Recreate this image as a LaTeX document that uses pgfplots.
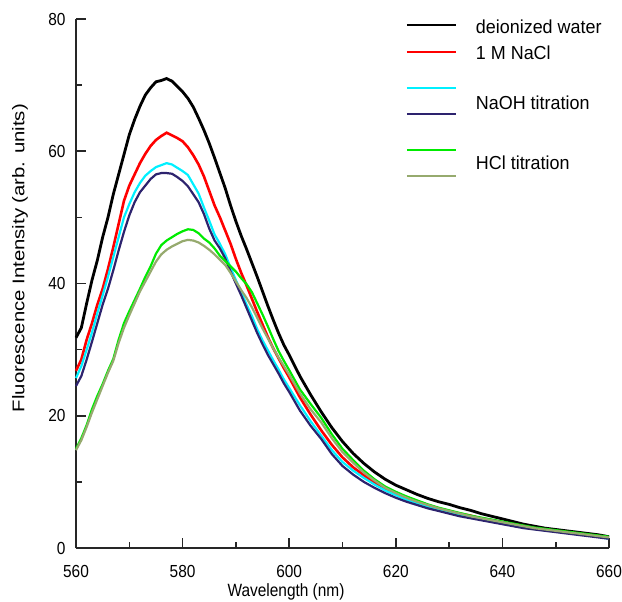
\documentclass[border=0pt]{standalone}
\usepackage{fontspec}
\setmainfont{Liberation Sans}
\usepackage{pgfplots}
\usepackage{pgfplotstable}
\pgfplotsset{compat=1.18}
\definecolor{navyc}{RGB}{45,35,110}
\definecolor{tanc}{RGB}{150,170,110}
\definecolor{cyanc}{RGB}{0,240,255}
\definecolor{greenc}{RGB}{0,235,0}
\definecolor{redc}{RGB}{255,0,0}

\pgfplotstableread{
lam black red cyan navy green tan
560 31.8 26.8 25.7 24.5 15.0 14.8
561 33.3 28.5 27.5 26.0 16.6 16.3
562 37.0 31.5 30.0 28.5 18.6 18.3
563 40.5 34.0 32.6 31.2 21.0 20.5
564 43.5 36.8 35.5 34.0 23.0 22.5
565 47.0 39.2 38.2 36.8 24.8 24.5
566 50.0 42.2 41.0 39.2 26.8 26.5
567 53.5 45.5 44.0 42.0 28.6 28.3
568 56.5 49.0 47.0 45.0 31.5 31.0
569 59.5 52.5 50.0 47.8 34.0 33.3
570 62.5 54.8 52.0 50.3 35.8 35.2
571 64.8 56.5 53.8 52.3 37.5 37.0
572 66.8 58.2 55.2 53.8 39.2 38.8
573 68.5 59.6 56.3 54.8 41.0 40.3
574 69.6 60.8 57.0 55.8 42.6 41.8
575 70.5 61.7 57.6 56.5 44.5 43.3
576 70.7 62.3 57.9 56.7 45.8 44.4
577 71.0 62.8 58.2 56.7 46.5 45.1
578 70.6 62.4 58.0 56.6 47.0 45.6
579 69.8 62.0 57.5 56.1 47.5 46.0
580 69.0 61.5 57.0 55.5 47.9 46.4
581 68.0 60.6 56.4 54.7 48.2 46.6
582 66.7 59.4 55.0 53.5 48.1 46.5
583 65.0 58.0 53.6 52.3 47.6 46.2
584 63.2 56.2 51.5 50.5 46.8 45.7
585 61.2 54.0 49.5 48.3 46.2 45.1
586 59.0 51.8 47.4 46.5 45.3 44.4
587 56.7 50.0 46.0 45.3 44.2 43.6
588 54.4 48.0 44.4 43.8 43.4 42.8
589 51.8 46.0 42.4 41.8 42.6 41.6
590 49.4 43.7 40.5 40.0 41.8 40.3
591 47.2 41.6 38.7 38.2 40.8 39.0
592 45.2 39.7 36.8 36.3 39.9 37.8
593 43.1 37.7 35.1 34.4 38.7 36.4
594 41.0 35.7 33.1 32.5 37.0 34.8
595 38.8 33.8 31.4 30.8 35.3 33.2
596 36.6 31.9 29.9 29.2 33.5 31.7
597 34.5 30.2 28.4 27.8 31.6 30.2
598 32.5 28.7 27.0 26.4 29.8 28.8
599 30.7 27.2 25.5 24.9 28.3 27.5
600 29.2 25.8 24.2 23.6 26.9 26.2
602 26.0 22.8 21.6 20.8 24.0 23.4
604 23.2 20.2 19.2 18.5 21.8 21.0
606 20.6 17.8 17.0 16.5 19.7 19.0
608 18.2 15.6 14.8 14.2 17.2 16.6
610 16.1 13.7 13.0 12.4 15.0 14.5
612 14.3 12.2 11.7 11.1 13.3 12.9
614 12.8 11.0 10.6 10.0 11.7 11.4
616 11.5 9.9 9.6 9.1 10.4 10.2
618 10.4 9.0 8.7 8.3 9.3 9.1
620 9.5 8.3 8.0 7.6 8.5 8.3
622 8.8 7.6 7.3 7.0 7.8 7.6
624 8.1 7.0 6.7 6.5 7.2 7.0
626 7.5 6.5 6.2 6.0 6.6 6.5
628 7.0 6.0 5.8 5.6 6.1 6.0
630 6.6 5.6 5.4 5.2 5.7 5.6
632 6.1 5.2 5.0 4.8 5.3 5.2
634 5.7 4.9 4.7 4.5 4.9 4.8
636 5.2 4.5 4.4 4.2 4.6 4.5
638 4.8 4.2 4.1 3.9 4.3 4.2
640 4.4 3.9 3.8 3.6 4.0 3.9
642 4.0 3.6 3.5 3.3 3.7 3.6
644 3.6 3.3 3.2 3.0 3.4 3.3
646 3.3 3.0 2.9 2.8 3.1 3.0
648 3.0 2.8 2.7 2.6 2.9 2.8
650 2.8 2.6 2.5 2.4 2.7 2.6
652 2.6 2.4 2.3 2.2 2.5 2.4
654 2.4 2.2 2.1 2.0 2.3 2.2
656 2.2 2.0 1.9 1.8 2.1 2.0
658 2.0 1.8 1.7 1.6 1.9 1.8
660 1.7 1.5 1.4 1.4 1.7 1.6
}\spectra

\begin{document}
\begin{tikzpicture}
\path[use as bounding box] (-76bp,-54bp) rectangle (546bp,548bp);
\begin{axis}[
  at={(0,0)}, anchor=south west,
  scale only axis, width=533bp, height=529bp,
  xmin=560, xmax=660, ymin=0, ymax=80,
  clip=false,
  axis x line*=bottom, axis y line*=left,
  axis line style={line width=1.5bp, black!85, -},
  xtick={560,580,...,660}, minor xtick={570,590,...,650},
  ytick={0,20,...,80}, minor ytick={10,30,50,70},
  tick align=inside,
  major tick length=10bp, minor tick length=6bp,
  tick style={line width=1.6bp, draw=black!85},
  /pgf/number format/assume math mode=true,
  ticklabel style={font=\fontsize{15.5}{15.5}\selectfont, yscale=1.13},
  xticklabel style={yshift=-11.5bp},
  yticklabel style={xshift=-7bp},
  xlabel={Wavelength (nm)},
  ylabel={Fluorescence Intensity (arb. units)},
  every axis x label/.style={at={(axis description cs:0.394,-0.0832)}, anchor=center, font=\fontsize{15.5}{15.5}\selectfont, yscale=1.15},
  every axis y label/.style={at={(axis description cs:-0.105,0.548)}, rotate=90, xscale=1.2, anchor=center, font=\fontsize{17}{17}\selectfont},
]
\addplot[black, line width=2.8bp] table[x=lam, y=black] {\spectra};
\addplot[redc, line width=2.6bp] table[x=lam, y=red] {\spectra};
\addplot[cyanc, line width=2.2bp] table[x=lam, y=cyan] {\spectra};
\addplot[navyc, line width=2.2bp] table[x=lam, y=navy] {\spectra};
\addplot[greenc, line width=2.2bp] table[x=lam, y=green] {\spectra};
\addplot[tanc, line width=2.2bp] table[x=lam, y=tan] {\spectra};

\draw[black, line width=2.8bp] (axis cs:622.1,79.1) -- (axis cs:631.3,79.1);
\draw[redc, line width=2.6bp] (axis cs:622.1,75.0) -- (axis cs:631.3,75.0);
\draw[cyanc, line width=2.2bp] (axis cs:622.1,69.6) -- (axis cs:631.3,69.6);
\draw[navyc, line width=2.2bp] (axis cs:622.1,65.6) -- (axis cs:631.3,65.6);
\draw[greenc, line width=2.2bp] (axis cs:622.1,60.2) -- (axis cs:631.3,60.2);
\draw[tanc, line width=2.2bp] (axis cs:622.1,56.3) -- (axis cs:631.3,56.3);
\begin{scope}[every node/.style={anchor=west, inner sep=0pt, font=\fontsize{18}{18}\selectfont, yscale=1.05}]
\node at (axis cs:635,78.9) {deionized water};
\node at (axis cs:635,74.9) {1 M NaCl};
\node at (axis cs:635,67.3) {NaOH titration};
\node at (axis cs:635,58.2) {HCl titration};
\end{scope}
\end{axis}
\end{tikzpicture}
\end{document}
